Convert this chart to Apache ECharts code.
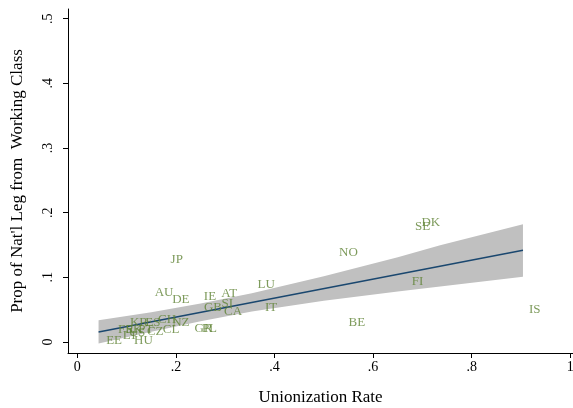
<!DOCTYPE html>
<html>
<head>
<meta charset="utf-8">
<script src="https://cdn.jsdelivr.net/npm/echarts@6/dist/echarts.min.js"></script>
<style>html,body{margin:0;padding:0;background:#fff;}#c{width:573px;height:408px;}</style>
</head>
<body>
<div id="c"></div>
<script>
// Country labels with (unionization rate, prop. of national legislators from working class)
var countries = ['JP','AU','DE','IE','AT','GB','SI','CA','LU','IT','NO','SE','DK','FI','BE','IS',
  'GR','PL','EE','HU','FR','LT','US','SK','KR','ES','CH','NZ','CZ','CL','PT'];
var unionRate = [0.2016,0.176,0.210,0.269,0.308,0.275,0.304,0.316,0.383,0.393,0.550,0.7006,0.717,0.690,0.567,0.928,
  0.256,0.268,0.0745,0.134,0.0988,0.107,0.121,0.115,0.125,0.153,0.182,0.210,0.158,0.190,0.139];
var workingProp = [0.127,0.076,0.066,0.070,0.075,0.053,0.060,0.0475,0.089,0.054,0.138,0.178,0.184,0.094,0.030,0.0506,
  0.0206,0.0206,0.0015,0.0015,0.0186,0.0093,0.0139,0.0186,0.0294,0.0294,0.034,0.0294,0.0155,0.0186,0.0186];

// Fitted line end points
var fitX = [0.043, 0.904];
var fitY = [0.0155, 0.142];

// Confidence band
var ciX     = [0.043, 0.15, 0.25, 0.354, 0.5, 0.65, 0.736, 0.904];
var ciLower = [-0.0025, 0.016, 0.032, 0.047, 0.0637, 0.078, 0.0858, 0.101];
var ciUpper = [0.0335, 0.046, 0.0595, 0.0754, 0.1017, 0.131, 0.1495, 0.182];

// Tick values
var xTicks = [0, 0.2, 0.4, 0.6, 0.8, 1];
var yTicks = [0, 0.1, 0.2, 0.3, 0.4, 0.5];

function fmt(v){ if (v === 0) return '0'; if (v === 1) return '1'; return String(v).replace(/^0\./, '.'); }

var FONT = '"Liberation Serif", "DejaVu Serif", serif';
var labelData = countries.map(function(c,i){ return {name:c, value:[unionRate[i], workingProp[i]]}; });
var fitData = fitX.map(function(x,i){ return [x, fitY[i]]; });
var bandPts = [];
ciX.forEach(function(x,i){ bandPts.push([x, ciUpper[i]]); });
for (var i = ciX.length-1; i >= 0; i--) bandPts.push([ciX[i], ciLower[i]]);

var chart = echarts.init(document.getElementById('c'), null, {renderer:'canvas'});
chart.setOption({
  animation: false,
  backgroundColor: '#ffffff',
  grid: {left: 68, right: 0, top: 9, bottom: 55, containLabel: false, outerBoundsMode: 'none'},
  xAxis: {
    type: 'value', min: -0.019, max: 1.0055,
    name: 'Unionization Rate', nameLocation: 'middle', nameGap: 36,
    nameTextStyle: {fontFamily: FONT, fontSize: 17, color: '#000'},
    axisLine: {show: true, onZero: false, lineStyle: {color: '#000', width: 1}},
    axisTick: {show: true, length: 5, customValues: xTicks, lineStyle: {color: '#000'}},
    axisLabel: {customValues: xTicks, formatter: fmt, fontFamily: FONT, fontSize: 14, color: '#000', margin: 7},
    splitLine: {show: false}
  },
  yAxis: {
    type: 'value', min: -0.017, max: 0.515,
    name: 'Prop of Nat\'l Leg from  Working Class', nameLocation: 'middle', nameGap: 42,
    nameTextStyle: {fontFamily: FONT, fontSize: 17, color: '#000'},
    axisLine: {show: true, onZero: false, lineStyle: {color: '#000', width: 1}},
    axisTick: {show: true, length: 5, customValues: yTicks, lineStyle: {color: '#000'}},
    axisLabel: {customValues: yTicks, formatter: fmt, rotate: 90, fontFamily: FONT, fontSize: 14, color: '#000', margin: 13},
    splitLine: {show: false}
  },
  series: [
    {
      type: 'custom', z: 1, silent: true,
      data: [0],
      renderItem: function(params, api){
        var pts = bandPts.map(function(p){ return api.coord(p); });
        return {type: 'polygon', shape: {points: pts}, style: {fill: '#c0c0c0', stroke: null}};
      }
    },
    {
      type: 'line', z: 2, data: fitData, symbol: 'none', silent: true,
      lineStyle: {color: '#1a476f', width: 1.5}
    },
    {
      type: 'scatter', z: 3, data: labelData, symbolSize: 0, silent: true,
      label: {
        show: true, position: 'inside', formatter: '{b}',
        fontFamily: FONT, fontSize: 13, color: '#5e8233', align: 'center', verticalAlign: 'middle'
      }
    }
  ]
});
</script>
</body>
</html>
